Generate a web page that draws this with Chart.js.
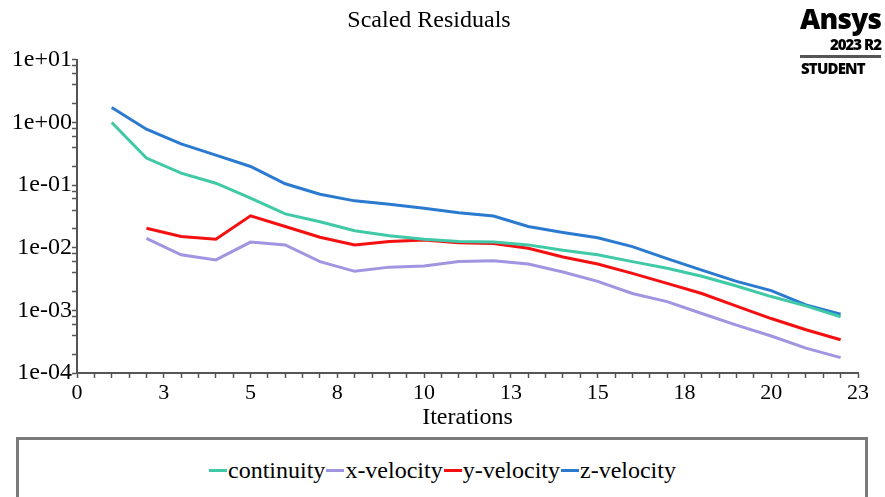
<!DOCTYPE html>
<html>
<head>
<meta charset="utf-8">
<script src="https://cdn.jsdelivr.net/npm/chart.js@4.4.1/dist/chart.umd.min.js"></script>
<style>
  body { margin: 0; background: #fff; overflow: hidden; }
  #wrap { position: relative; width: 885px; height: 497px; overflow: hidden; }
  #chart { position: absolute; left: 0; top: 0; }
  #legendBox {
    position: absolute; left: 16px; top: 437px; width: 852px; height: 80px;
    border: 3px solid #7a7a7a; border-bottom: none;
    font-family: "Liberation Serif", Tinos, "Times New Roman", Times, "DejaVu Serif", serif; font-size: 24px; color: #000;
    display: flex; justify-content: center; align-items: flex-start; padding-top: 15px; box-sizing: border-box;
  }
  .item { display: flex; align-items: center; line-height: 30px; }
  .mark { display: inline-block; width: 18px; height: 3px; margin: 0 1px; }
  #logo { position: absolute; left: 800px; top: 4px; width: 81px; font-family: "Open Sans", "DejaVu Sans", sans-serif; color: #000; font-weight: 800; }
  #logo .big { font-size: 28px; line-height: 28px; text-align: right; letter-spacing: -0.8px; }
  #logo .ver { font-size: 15px; line-height: 17px; text-align: right; letter-spacing: -1px; margin-top: 4px; }
  #logo .rule { height: 3px; background: #555; margin: 2px 0 2px 0; }
  #logo .stu { font-size: 15px; line-height: 17px; padding-left: 1px; letter-spacing: -0.8px; }
</style>
</head>
<body>
<div id="wrap">
  <canvas id="chart" width="885" height="432"></canvas>
  <div id="logo">
    <div class="big">Ansys</div>
    <div class="ver">2023 R2</div>
    <div class="rule"></div>
    <div class="stu">STUDENT</div>
  </div>
  <div id="legendBox"></div>
</div>
<script>
// du lieu doc tu hinh
const iterations = [1, 2, 3, 4, 5, 6, 7, 8, 9, 10, 11, 12, 13, 14, 15, 16, 17, 18, 19, 20, 21, 22];
const continuity = [1.0, 0.27, 0.155, 0.107, 0.062, 0.0347, 0.026, 0.0187, 0.0155, 0.0137, 0.0126, 0.0123, 0.0111, 0.0091, 0.0077, 0.006, 0.0047, 0.0035, 0.00245, 0.00166, 0.00118, 0.00079];
const xVelocity = [null, 0.0141, 0.0077, 0.0064, 0.0123, 0.0111, 0.006, 0.0042, 0.0049, 0.0051, 0.006, 0.0062, 0.0055, 0.0041, 0.0029, 0.00186, 0.00138, 0.00089, 0.00058, 0.00039, 0.00025, 0.000176];
const yVelocity = [null, 0.0205, 0.0151, 0.0137, 0.0323, 0.0218, 0.0147, 0.0111, 0.0126, 0.0133, 0.012, 0.0117, 0.0098, 0.0071, 0.0055, 0.0039, 0.0027, 0.00186, 0.00117, 0.00074, 0.00049, 0.00034];
const zVelocity = [1.73, 0.78, 0.455, 0.30, 0.198, 0.105, 0.0716, 0.056, 0.0495, 0.0427, 0.0363, 0.032, 0.0218, 0.0175, 0.0144, 0.0104, 0.0067, 0.0044, 0.0029, 0.00207, 0.00122, 0.00087];

const seriesNames = ["continuity", "x-velocity", "y-velocity", "z-velocity"];
const seriesColors = ["#3fc9a6", "#a095e0", "#f41010", "#2a7bd0"];

const xTickLabels = ["0", "3", "5", "8", "10", "13", "15", "18", "20", "23"];
const yTickLabels = ["1e-04", "1e-03", "1e-02", "1e-01", "1e+00", "1e+01"];
const yMinorSteps = [1, 2, 4, 6, 8];

const serif = "'Liberation Serif', Tinos, 'Times New Roman', Times, 'DejaVu Serif', serif";

function toPoints(vals) {
    return iterations.map((it, i) => ({ x: it, y: vals[i] }));
}

const allSeries = [continuity, xVelocity, yVelocity, zVelocity];
const datasets = allSeries.map((vals, i) => ({
    label: seriesNames[i],
    data: toPoints(vals),
    borderColor: seriesColors[i],
    backgroundColor: seriesColors[i],
    borderWidth: 3,
    pointRadius: 0,
    tension: 0,
    spanGaps: false
}));

const chart = new Chart(document.getElementById("chart"), {
    type: "line",
    data: { datasets },
    options: {
        responsive: false,
        animation: false,
        layout: { padding: { top: 0, right: 27, bottom: 0, left: 0 } },
        plugins: {
            legend: { display: false },
            tooltip: { enabled: false },
            title: {
                display: true,
                text: "Scaled Residuals",
                color: "#000",
                font: { family: serif, size: 24, weight: "normal" },
                padding: { top: 6, bottom: 25 }
            }
        },
        scales: {
            x: {
                type: "linear",
                min: 0,
                max: 22.5,
                afterFit: (scale) => { scale.height = 59; },
                border: { display: true, color: "#555", width: 2 },
                grid: { drawOnChartArea: false, color: "#555", tickLength: 5, tickWidth: 1.5 },
                ticks: {
                    stepSize: 0.5,
                    autoSkip: false,
                    maxRotation: 0,
                    padding: 2,
                    color: "#000",
                    font: { family: serif, size: 22 },
                    callback: (v) => (v % 2.5 === 0 ? xTickLabels[v / 2.5] : "")
                },
                title: {
                    display: true,
                    text: "Iterations",
                    color: "#000",
                    font: { family: serif, size: 24 },
                    padding: { top: 0, bottom: 0 }
                }
            },
            y: {
                type: "logarithmic",
                min: 1e-4,
                max: 10,
                afterFit: (scale) => { scale.width = 77; },
                afterBuildTicks: (scale) => {
                    const t = [];
                    for (let e = -4; e <= 1; e++) {
                        yMinorSteps.forEach(m => {
                            if (e === 1 && m > 1) return;
                            t.push({ value: m * Math.pow(10, e) });
                        });
                    }
                    scale.ticks = t;
                },
                border: { display: true, color: "#555", width: 2 },
                grid: { drawOnChartArea: false, color: "#555", tickLength: 5, tickWidth: 1.5 },
                ticks: {
                    autoSkip: false,
                    padding: 0,
                    color: "#000",
                    font: { family: serif, size: 24 },
                    callback: (v) => {
                        const e = Math.log10(v);
                        if (Math.abs(e - Math.round(e)) < 1e-9) return yTickLabels[Math.round(e) + 4];
                        return "";
                    }
                }
            }
        }
    }
});

// legend html lay tu datasets
const legendBox = document.getElementById("legendBox");
chart.data.datasets.forEach(ds => {
    const item = document.createElement("div");
    item.className = "item";
    const mark = document.createElement("span");
    mark.className = "mark";
    mark.style.background = ds.borderColor;
    const txt = document.createElement("span");
    txt.textContent = ds.label;
    item.appendChild(mark);
    item.appendChild(txt);
    legendBox.appendChild(item);
});
</script>
</body>
</html>
